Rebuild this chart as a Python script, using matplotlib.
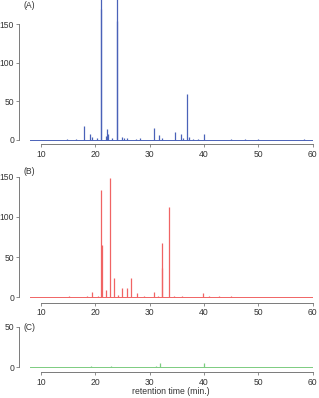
import matplotlib
matplotlib.use('Agg')
import matplotlib.pyplot as plt

# ---------------------------------------------------------------------------
# peak lists: retention time (min) and intensity
rt_a = [14.8, 16.5, 17.9, 19.1, 19.5, 20.3, 21.0, 21.1, 22.0, 22.2, 22.4, 23.0,
        24.0, 24.1, 24.9, 25.3, 25.8, 27.5, 28.2, 30.9, 31.8, 32.2, 34.7, 35.7,
        36.2, 36.9, 37.2, 38.0, 39.0, 40.0, 45.0, 47.5, 50.0, 58.5]
int_a = [0.6, 0.8, 17.8, 8.0, 3.5, 2.0, 190, 170, 5.0, 13.5, 8.0, 2.0,
         190, 155, 4.0, 2.0, 2.0, 1.0, 2.0, 15.0, 6.0, 2.0, 9.6, 7.8,
         2.0, 60.0, 3.0, 1.0, 1.0, 7.0, 0.6, 1.0, 0.6, 1.0]

rt_b = [15.2, 18.5, 19.5, 20.5, 21.1, 21.2, 21.9, 22.7, 23.45, 24.2, 25.0, 25.85,
        26.6, 27.75, 29.0, 30.8, 31.5, 32.2, 32.3, 33.6, 34.5, 36.0, 39.9, 41.0,
        42.8, 45.0]
int_b = [1.0, 1.5, 6.0, 2.0, 133.5, 65.0, 9.5, 148.0, 24.4, 3.0, 11.0, 11.7,
         23.6, 5.0, 1.0, 6.0, 2.0, 37.0, 67.0, 112.0, 2.0, 1.5, 5.0, 2.0,
         2.0, 1.0]

rt_c = [16.0, 18.5, 19.3, 20.2, 21.5, 22.9, 25.0, 27.8, 31.1, 32.0, 35.0, 37.0, 40.1]
int_c = [0.4, 0.8, 1.0, 0.8, 0.7, 1.5, 0.6, 0.8, 2.0, 5.7, 0.6, 0.8, 4.9]

rt_range = [8, 60]
x_ticks = [10, 20, 30, 40, 50, 60]

panels = [
    # label, rt, intensity, colour, y ticks, ylim, rect(px: top, bottom), spine offset, label y
    ('(A)', rt_a, int_a, '#4a62b8', [0, 50, 100, 150], (-1.7, 181.7), (0, 141), 2.4, 6),
    ('(B)', rt_b, int_b, '#f06464', [0, 50, 100, 150], (-1.5, 164.5), (165, 298.5), 3.0, 172),
    ('(C)', rt_c, int_c, '#7ccc80', [0, 50], (-1.5, 55.8), (322, 368.5), 2.5, 327),
]

W, H = 319, 398
plt.rcParams['font.family'] = ['Liberation Sans', 'DejaVu Sans']
fig = plt.figure(figsize=(W / 100, H / 100), dpi=100)

for label, rt, inten, col, yt, ylim, (top, bot), boff, ly in panels:
    ax = fig.add_axes([30 / W, (H - bot) / H, 282.6 / W, (bot - top) / H])
    ax.plot(rt_range, [0, 0], color=col, lw=0.7)
    ax.vlines(rt, 0, inten, color=col, lw=0.9)
    ax.set_xlim(rt_range)
    ax.set_ylim(ylim)
    for s in ['top', 'right']:
        ax.spines[s].set_visible(False)
    ax.spines['left'].set_position(('outward', 7.9))
    ax.spines['bottom'].set_position(('outward', boff))
    ax.spines['left'].set_bounds(yt[0], yt[-1])
    ax.spines['bottom'].set_bounds(x_ticks[0], x_ticks[-1])
    for s in ['left', 'bottom']:
        ax.spines[s].set_color('#7a7a7a')
        ax.spines[s].set_linewidth(0.7)
    ax.set_xticks(x_ticks)
    ax.set_yticks(yt)
    ax.tick_params(length=2.5, width=0.6, color='#7a7a7a', labelsize=6.2,
                   labelcolor='#333333', pad=1.5)
    ax.tick_params(axis='y', pad=1.0)
    fig.text(23 / W, 1 - ly / H, label, fontsize=6.2, color='#333333', va='center')

fig.text(171 / W, 1 - 392 / H, 'retention time (min.)', fontsize=6.2,
         color='#333333', ha='center', va='center')

fig.savefig('out.png', dpi=100)
